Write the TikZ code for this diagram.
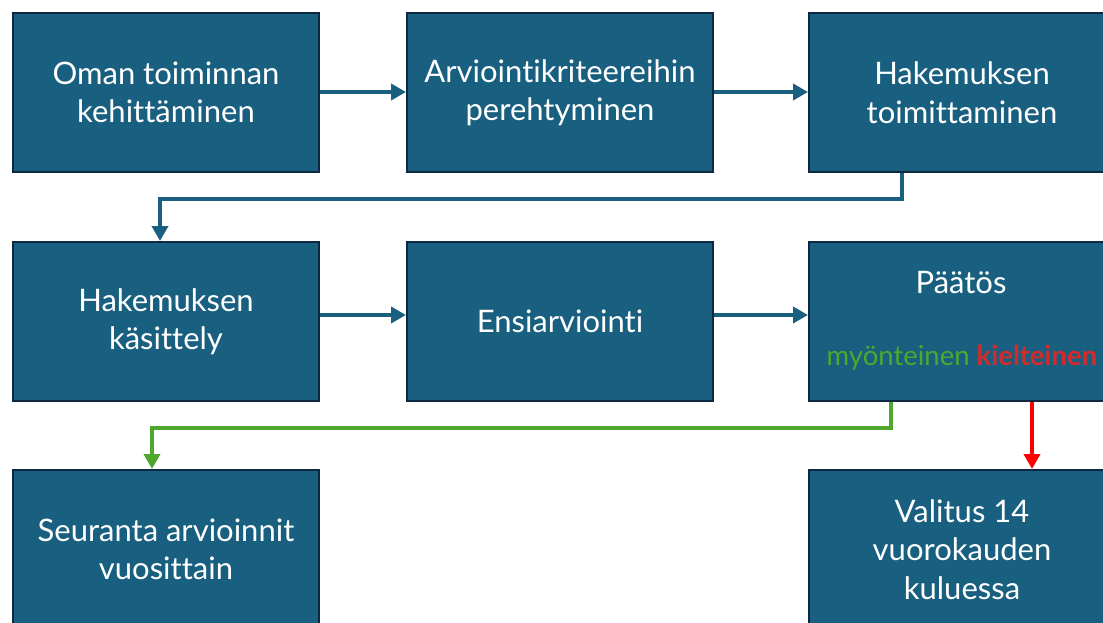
\documentclass[tikz,border=0pt]{standalone}
\usepackage{fontspec}
\setmainfont{Lato}[Ligatures=NoCommon]
\usetikzlibrary{arrows.meta}
\definecolor{boxfill}{HTML}{185F80}
\definecolor{boxline}{HTML}{0E2841}
\definecolor{arrowblue}{HTML}{1A5E80}
\definecolor{okgreen}{HTML}{4EA72E}
\definecolor{nored}{HTML}{FF0000}
\definecolor{notext}{HTML}{D62A2A}
\begin{document}
\begin{tikzpicture}[x=1pt,y=-1pt,
  stepbox/.style={draw=boxline, line width=2pt, fill=boxfill, text=white,
    minimum width=306pt, minimum height=159pt, anchor=north west,
    align=center, inner sep=0pt, font=\fontsize{31}{38.5}\selectfont},
  flow/.style={draw=arrowblue, line width=4pt,
    -{Triangle[length=15pt,width=16pt]}},
  yes/.style={draw=okgreen, line width=4pt,
    -{Triangle[length=15pt,width=16pt]}},
  no/.style={draw=nored, line width=4pt,
    -{Triangle[length=15pt,width=16pt]}}]
\useasboundingbox (0,0) rectangle (1103,623);
\clip (0,0) rectangle (1103,623);
\node[stepbox] (b1) at (12,12) {Oman toiminnan\\kehittäminen};
\node[stepbox] (b2) at (406,12) {Arviointikriteereihin\\perehtyminen};
\node[stepbox] (b3) at (808,12) {Hakemuksen\\toimittaminen};
\node[stepbox] (b4) at (12,241) {Hakemuksen\\käsittely};
\node[stepbox] (b5) at (406,241) {Ensiarviointi};
\node[stepbox] (b6) at (808,241) {};
\node[text=white, font=\fontsize{31}{38}\selectfont] (p6) at (961,283) {Päätös};
\node[font=\fontsize{27.5}{32}\selectfont, inner sep=0pt] (d6) at (962,358)
  {\textcolor{okgreen}{myönteinen} \textcolor{notext}{\bfseries kielteinen}};
\node[stepbox] (b7) at (12,469) {Seuranta arvioinnit\\vuosittain};
\node[stepbox] (b8) at (808,469) {Valitus 14\\vuorokauden\\kuluessa};

\draw[flow] (b1.east |- 0,92) -- (b2.west |- 0,92);
\draw[flow] (b2.east |- 0,92) -- (b3.west |- 0,92);
\coordinate (c3a) at (902,199);
\coordinate (c3b) at (160,199);
\draw[flow] (b3.south -| c3a) -- (c3a) -- (c3b) -- (b4.north -| c3b);
\draw[flow] (b4.east |- 0,315) -- (b5.west |- 0,315);
\draw[flow] (b5.east |- 0,315) -- (b6.west |- 0,315);
\coordinate (g1) at (891,428);
\coordinate (g2) at (152,428);
\draw[yes] (b6.south -| g1) -- (g1) -- (g2) -- (b7.north -| g2);
\coordinate (r1) at (1032,430);
\draw[no] (b6.south -| r1) -- (b8.north -| r1);
\end{tikzpicture}
\end{document}
